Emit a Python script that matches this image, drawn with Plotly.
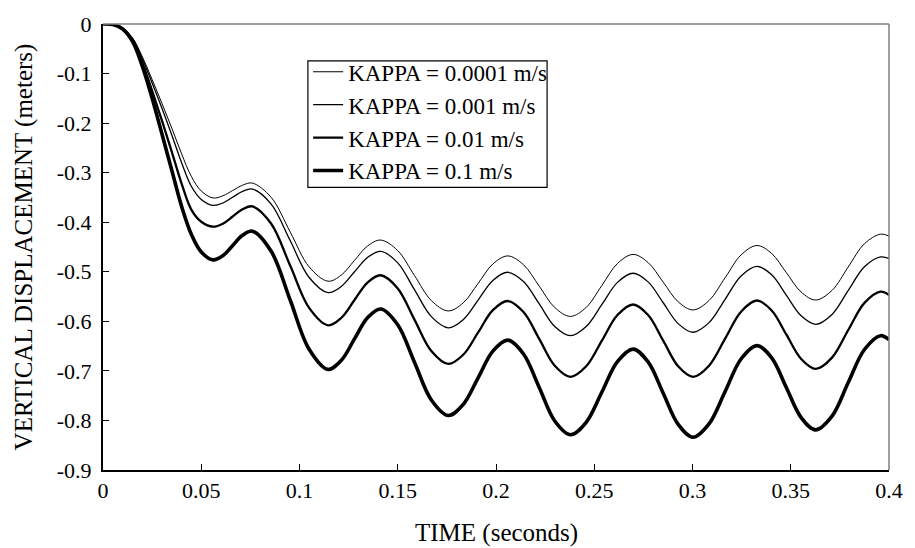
import plotly.graph_objects as go

# Time (s)
time_s = [0, 0.005, 0.01, 0.015, 0.02, 0.025, 0.03, 0.035, 0.04, 0.045, 0.05,
          0.056, 0.061, 0.066, 0.071,
          0.076, 0.0856, 0.0953, 0.1049,
          0.1145, 0.1212, 0.1279, 0.1346,
          0.1413, 0.1499, 0.1585, 0.1671,
          0.1757, 0.1833, 0.1909, 0.1984,
          0.206, 0.214, 0.222, 0.2299,
          0.2379, 0.2459, 0.2539, 0.2618,
          0.2698, 0.2774, 0.2851, 0.2927,
          0.3003, 0.3084, 0.3166, 0.3247,
          0.3328, 0.3403, 0.3478, 0.3553,
          0.3627, 0.371, 0.3792, 0.3875,
          0.3957, 0.4]

kappa_00001 = [0, -0.001, -0.009, -0.028, -0.066, -0.112, -0.160, -0.210, -0.262, -0.308, -0.337,
               -0.351, -0.3466, -0.336, -0.3254,
               -0.321, -0.3499, -0.420, -0.4901,
               -0.519, -0.5069, -0.4775, -0.4481,
               -0.436, -0.4569, -0.5075, -0.5581,
               -0.579, -0.5628, -0.5235, -0.4842,
               -0.468, -0.4858, -0.529, -0.5722,
               -0.590, -0.5718, -0.5275, -0.4833,
               -0.465, -0.4814, -0.521, -0.5606,
               -0.577, -0.558, -0.512, -0.466,
               -0.447, -0.4631, -0.502, -0.5409,
               -0.557, -0.5376, -0.4905, -0.4434,
               -0.424, -0.428]

kappa_0001 = [0, -0.001, -0.009, -0.029, -0.070, -0.119, -0.170, -0.224, -0.280, -0.328, -0.354,
              -0.366, -0.3612, -0.3495, -0.3378,
              -0.333, -0.3635, -0.4375, -0.5115,
              -0.542, -0.5299, -0.5005, -0.4711,
              -0.459, -0.4815, -0.536, -0.5905,
              -0.613, -0.5966, -0.557, -0.5174,
              -0.501, -0.5197, -0.565, -0.6103,
              -0.629, -0.6106, -0.566, -0.5214,
              -0.503, -0.5204, -0.5625, -0.6046,
              -0.622, -0.6026, -0.5555, -0.5084,
              -0.489, -0.5061, -0.5475, -0.5889,
              -0.606, -0.5861, -0.538, -0.4899,
              -0.470, -0.473]

kappa_001 = [0, -0.001, -0.010, -0.032, -0.078, -0.135, -0.195, -0.258, -0.322, -0.375, -0.399,
             -0.409, -0.403, -0.3885, -0.374,
             -0.368, -0.403, -0.488, -0.573,
             -0.608, -0.5933, -0.5575, -0.5217,
             -0.507, -0.5331, -0.5965, -0.6599,
             -0.686, -0.6675, -0.6225, -0.5775,
             -0.559, -0.5813, -0.6355, -0.6897,
             -0.712, -0.6907, -0.639, -0.5873,
             -0.566, -0.5873, -0.639, -0.6907,
             -0.712, -0.6895, -0.635, -0.5805,
             -0.558, -0.5781, -0.627, -0.6759,
             -0.696, -0.6732, -0.618, -0.5628,
             -0.540, -0.547]

kappa_01 = [0, -0.001, -0.010, -0.035, -0.085, -0.150, -0.222, -0.295, -0.368, -0.425, -0.460,
            -0.476, -0.4675, -0.447, -0.4265,
            -0.418, -0.4587, -0.5575, -0.6563,
            -0.697, -0.6792, -0.636, -0.5928,
            -0.575, -0.6064, -0.6825, -0.7586,
            -0.790, -0.7678, -0.714, -0.6602,
            -0.638, -0.6659, -0.7335, -0.8011,
            -0.829, -0.8037, -0.7425, -0.6813,
            -0.656, -0.682, -0.745, -0.808,
            -0.834, -0.807, -0.7415, -0.676,
            -0.649, -0.6738, -0.734, -0.7942,
            -0.819, -0.7913, -0.724, -0.6568,
            -0.629, -0.637]

series_names = ["KAPPA = 0.0001 m/s", "KAPPA = 0.001 m/s", "KAPPA = 0.01 m/s", "KAPPA = 0.1 m/s"]
series_values = [kappa_00001, kappa_0001, kappa_001, kappa_01]
line_widths = [1.0, 1.3, 2.3, 3.6]

x_tickvals = [0, 0.05, 0.1, 0.15, 0.2, 0.25, 0.3, 0.35, 0.4]
x_ticktext = ["0", "0.05", "0.1", "0.15", "0.2", "0.25", "0.3", "0.35", "0.4"]
y_tickvals = [0, -0.1, -0.2, -0.3, -0.4, -0.5, -0.6, -0.7, -0.8, -0.9]
y_ticktext = ["0", "-0.1", "-0.2", "-0.3", "-0.4", "-0.5", "-0.6", "-0.7", "-0.8", "-0.9"]

FONT = "Liberation Serif, Times New Roman, serif"

fig = go.Figure()
for name, vals, w in zip(series_names, series_values, line_widths):
    fig.add_trace(go.Scatter(
        x=time_s, y=vals, mode="lines", name=name,
        line=dict(color="black", width=w, shape="spline", smoothing=1.0),
    ))

fig.update_layout(
    width=915, height=548,
    margin=dict(l=103, r=18, t=15, b=78),
    paper_bgcolor="white", plot_bgcolor="white",
    font=dict(family=FONT, size=22, color="black"),
    showlegend=True,
    legend=dict(
        x=0.261, y=0.941, xanchor="left", yanchor="top",
        borderwidth=0, bgcolor="rgba(0,0,0,0)",
        font=dict(family=FONT, size=23, color="black"),
        itemwidth=30,
    ),
    xaxis=dict(
        range=[0, 0.4], tickvals=x_tickvals, ticktext=x_ticktext,
        showgrid=False, zeroline=False,
        showline=True, linecolor="black", linewidth=2,
        ticks="inside", ticklen=6, tickwidth=1, tickcolor="black",
        tickfont=dict(family=FONT, size=22, color="black"),
    ),
    yaxis=dict(
        range=[-0.9, 0], tickvals=y_tickvals, ticktext=y_ticktext,
        showgrid=False, zeroline=False,
        showline=True, linecolor="black", linewidth=2,
        ticks="inside", ticklen=6, tickwidth=1, tickcolor="black",
        ticklabelstandoff=5,
        tickfont=dict(family=FONT, size=22, color="black"),
    ),
    shapes=[
        dict(type="line", xref="paper", yref="paper", x0=0, x1=1, y0=1, y1=1,
             line=dict(color="#7f7f7f", width=1.5)),
        dict(type="line", xref="paper", yref="paper", x0=1, x1=1, y0=0, y1=1,
             line=dict(color="#7f7f7f", width=1.5)),
        # legend frame
        dict(type="rect", xref="paper", yref="paper", x0=0.2607, x1=0.565,
             y0=0.6336, y1=0.9171, line=dict(color="black", width=1.2),
             fillcolor="rgba(0,0,0,0)"),
    ],
    annotations=[
        dict(text="TIME (seconds)", xref="paper", yref="paper", x=0.5, y=-0.1407,
             xanchor="center", yanchor="middle", showarrow=False,
             font=dict(family=FONT, size=25, color="black")),
        dict(text="VERTICAL DISPLACEMENT (meters)", xref="paper", yref="paper",
             x=-0.1, y=0.5, xanchor="center", yanchor="middle", textangle=-90,
             showarrow=False, font=dict(family=FONT, size=25, color="black")),
    ],
)

fig.write_html("out.html")
